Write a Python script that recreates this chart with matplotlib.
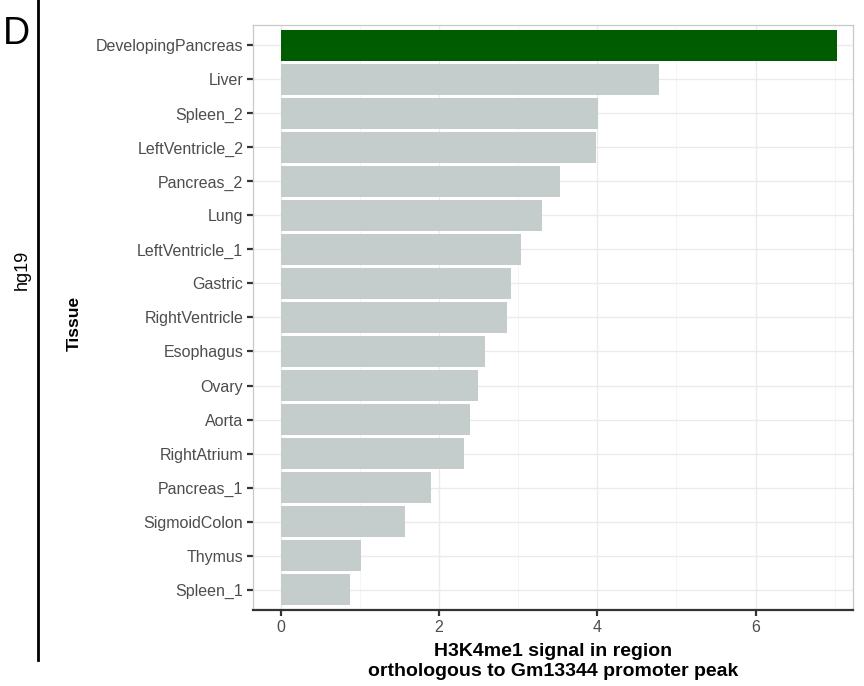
import numpy as np
import matplotlib
matplotlib.use("Agg")
from matplotlib import pyplot as plt
from matplotlib.ticker import MultipleLocator

plt.rcParams['font.family'] = ['Liberation Sans', 'DejaVu Sans']

tissues = ["DevelopingPancreas", "Liver", "Spleen_2", "LeftVentricle_2", "Pancreas_2",
           "Lung", "LeftVentricle_1", "Gastric", "RightVentricle", "Esophagus",
           "Ovary", "Aorta", "RightAtrium", "Pancreas_1", "SigmoidColon",
           "Thymus", "Spleen_1"]
signal = [7.03, 4.78, 4.01, 3.98, 3.53, 3.30, 3.03, 2.91, 2.86, 2.58,
          2.49, 2.39, 2.31, 1.90, 1.57, 1.02, 0.87]
highlight = "DevelopingPancreas"

fig = plt.figure(figsize=(8.64, 6.86), dpi=100)
ax = fig.add_axes([0.2928, 0.1108, 0.6945, 0.8528])

ypos = np.arange(len(tissues))[::-1]
colors = ["#005c00" if t == highlight else "#c4cccc" for t in tissues]
ax.barh(ypos, signal, height=0.9, color=colors, zorder=2)

ax.set_yticks(ypos)
ax.set_yticklabels(tissues)
ax.set_ylim(-0.6, len(tissues) - 0.4)
ax.set_xlim(-0.35, 7.23)
ax.xaxis.set_major_locator(MultipleLocator(2))
ax.xaxis.set_minor_locator(MultipleLocator(1))

ax.grid(which="major", color="#ebebeb", linewidth=1.0, zorder=0)
ax.grid(which="minor", axis="x", color="#f4f4f4", linewidth=0.6, zorder=0)
ax.set_axisbelow(True)

for side in ["left", "top", "right"]:
    ax.spines[side].set_color("#c8c8c8")
    ax.spines[side].set_linewidth(0.9)
ax.spines["bottom"].set_color("#333333")
ax.spines["bottom"].set_linewidth(1.6)

ax.tick_params(axis="both", which="major", length=4, width=1.6, color="#333333",
               labelsize=11.5, labelcolor="#4d4d4d", pad=3)
ax.tick_params(axis="x", which="minor", length=0)

ax.set_xlabel("H3K4me1 signal in region\northologous to Gm13344 promoter peak",
              fontsize=14, fontweight="bold", labelpad=6, linespacing=1.25)
ax.set_ylabel("Tissue", fontsize=12.5, fontweight="bold")
ax.yaxis.set_label_coords(-0.285, 0.49)

# panel letter, strip label and divider line
fig.text(0.003, 0.977, "D", fontsize=27, ha="left", va="top")
fig.text(0.026, 0.606, "hg19", fontsize=13, rotation=90, ha="center", va="center")
fig.add_artist(plt.Line2D([0.044, 0.044], [0.038, 1.0], color="black", linewidth=2,
                          transform=fig.transFigure))

plt.savefig("out.png", dpi=100)
